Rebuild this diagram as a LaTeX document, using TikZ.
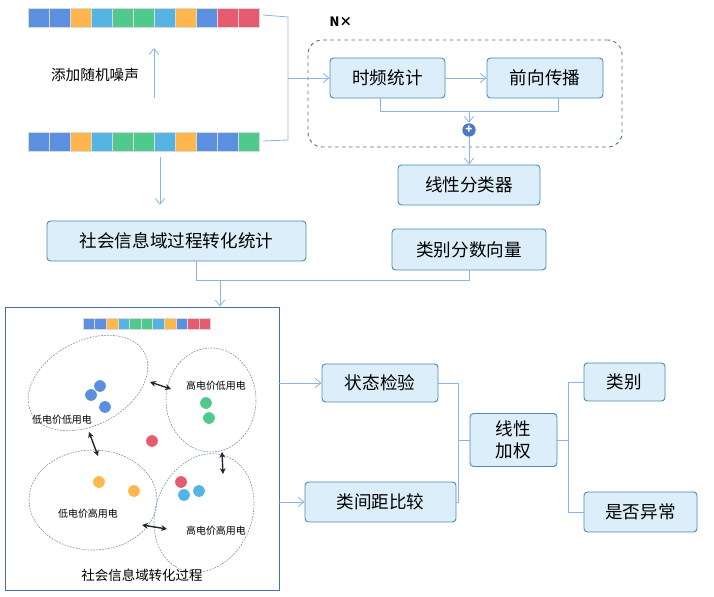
\documentclass[tikz,border=0pt]{standalone}
\usepackage{fontspec}
\setmainfont{Noto Sans CJK SC}
\usetikzlibrary{arrows.meta}
\definecolor{cB}{HTML}{5B8FE0}\definecolor{cY}{HTML}{FFB74D}\definecolor{cL}{HTML}{55B4E3}
\definecolor{cG}{HTML}{4FC98C}\definecolor{cR}{HTML}{E85A70}
\definecolor{boxf}{HTML}{DCEEF9}\definecolor{boxd}{HTML}{4A8DB5}\definecolor{ln}{HTML}{8AB4E8}
\definecolor{dash}{HTML}{4A6FA5}
\tikzset{
 box/.style={draw=boxd,fill=boxf,rounded corners=3pt,line width=0.8pt,font=\fontsize{15}{18}\selectfont,inner sep=0pt},
 con/.style={draw=ln,line width=0.7pt},
 arr/.style={con,-{Straight Barb[length=5pt,width=8pt]}},
 ell/.style={draw=dash!80,dashed,dash pattern=on 1.5pt off 1pt,line width=0.5pt},
 dot/.style={circle,inner sep=0pt,minimum size=10pt},
 small/.style={font=\fontsize{8.5}{10}\selectfont},
 dbl/.style={{Stealth[length=5pt,width=5pt]}-{Stealth[length=5pt,width=5pt]},line width=1.2pt,draw=black!85},
}
\newcommand{\mybar}[5]{% x y cellw h colors
 \foreach \c [count=\i from 0] in {#5}{\fill[\c,draw=white!70!gray,line width=0.3pt] ({#1+\i*#3},#2) rectangle ++(#3,#4);}}
\begin{document}
\begin{tikzpicture}[x=0.03cm,y=-0.03cm]
\useasboundingbox (0,0) rectangle (714,597);
\mybar{28}{8}{21}{19}{cB,cB,cY,cL,cG,cG,cL,cY,cB,cR,cR}
\mybar{28}{132}{21}{19}{cB,cB,cY,cL,cG,cG,cL,cY,cB,cB,cG}
\coordinate (nb) at (154,98); \coordinate (nt) at (154,48);
\draw[arr] (nb) -- (nt);
\node[font=\fontsize{12.5}{15}\selectfont] (noise) at (95,75) {添加随机噪声};
% bracket
\draw[con] (263,15) -- (288,17) -- (288,140) -- (263,141);
\node[draw=dash,dashed,line width=0.8pt,rounded corners=12pt,minimum width=314*0.03cm,minimum height=107*0.03cm] (grp) at (465,93.5) {};
\node[font=\bfseries\fontsize{11}{13}\selectfont] (nx) at (341,22) {N×};
\node[box,minimum width=115*0.03cm,minimum height=40*0.03cm] (tf) at (387.5,78) {时频统计};
\node[box,minimum width=116*0.03cm,minimum height=40*0.03cm] (qx) at (545,78) {前向传播};
\coordinate (bm) at (288,78);
\draw[arr] (bm) -- (tf);
\draw[arr] (tf) -- (qx);
\node[circle,fill=cB!85!black,draw=white,inner sep=0pt,minimum size=12pt,text=white,font=\bfseries\fontsize{10}{10}\selectfont] (plus) at (469,130) {+};
\draw[con] (380,98) -- (380,111) -- (558,111) -- (558,98);
\draw[arr] (469,111) -- (plus);
\node[box,minimum width=142*0.03cm,minimum height=40*0.03cm] (cls) at (469,185) {线性分类器};
\node[box,minimum width=154*0.03cm,minimum height=41*0.03cm] (vec) at (469,249.5) {类别分数向量};
\draw[arr] (plus) -- (cls);
\node[box,minimum width=259*0.03cm,minimum height=40*0.03cm] (soc) at (176.5,241) {社会信息域过程转化统计};
\draw[arr] (160,157) -- (160,205);
% panel
\node[draw=dash,line width=0.8pt,minimum width=274*0.03cm,minimum height=283*0.03cm,inner sep=0pt] (panel) at (142,448.5) {};
\draw[con] (196,261) -- (196,280) -- (469,280) -- (vec.south);
\draw[arr] (220,280) -- (panel.north -| 220,0);
\mybar{83}{318}{11.6}{11}{cB,cB,cY,cL,cG,cG,cL,cY,cB,cR,cR}
\draw[ell,rotate around={28:(88,383)}] (88,383) ellipse (64 and 42);
\draw[ell] (211,400) ellipse (45 and 52);
\draw[ell] (93,500) ellipse (64 and 50);
\draw[ell,rotate around={-22:(204,513)}] (204,513) ellipse (48 and 61);
\node[small] (l1) at (62,420) {低电价低用电};
\node[small] (l2) at (216,386) {高电价低用电};
\node[small] (l3) at (88,514) {低电价高用电};
\node[small] (l4) at (216,531) {高电价高用电};
\foreach \p/\c in {{(100,386)}/cB,{(91,395)}/cB,{(105,407)}/cB,{(206,403)}/cG,{(209,418)}/cG,{(152,441)}/cR,{(99,482)}/cY,{(134,491)}/cY,{(181,482)}/cR,{(184,495)}/cL,{(199,491)}/cL}
  \node[dot,fill=\c] at \p {};
\draw[dbl] (150,382) -- (171,389);
\draw[dbl] (89,432) -- (98,456);
\draw[dbl] (222,452) -- (223,474);
\draw[dbl] (142,525) -- (167,529);
\node[font=\fontsize{11.5}{14}\selectfont] (cap) at (142,575) {社会信息域转化过程};
% right
\node[box,minimum width=116*0.03cm,minimum height=38*0.03cm] (zt) at (380,383) {状态检验};
\node[box,minimum width=151*0.03cm,minimum height=40*0.03cm] (lj) at (380.5,502) {类间距比较};
\draw[arr] (panel.east |- 0,383) -- (zt);
\draw[arr] (panel.east |- 0,502) -- (lj);
\node[box,minimum width=87*0.03cm,minimum height=53*0.03cm,align=center,font=\fontsize{15}{19}\selectfont] (jq) at (513.5,440) {线性\\加权};
\draw[con] (zt.east) -- (458,383) -- (458,502) -- (lj.east);
\draw[con] (458,440) -- (jq.west);
\node[box,minimum width=81*0.03cm,minimum height=38*0.03cm] (lb) at (624.5,382) {类别};
\node[box,minimum width=113*0.03cm,minimum height=40*0.03cm] (yc) at (640.5,512) {是否异常};
\draw[con] (jq.east) -- (568,440);
\draw[con] (lb.west) -- (568,382) -- (568,512) -- (yc.west);
\end{tikzpicture}
\end{document}
